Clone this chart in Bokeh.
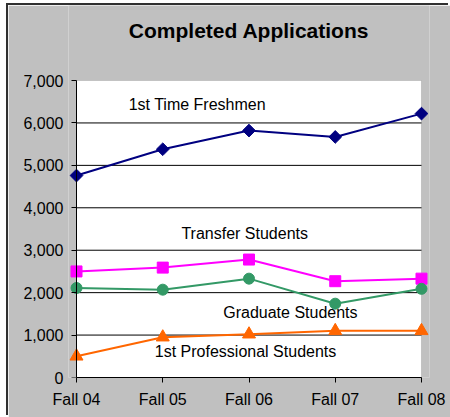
from bokeh.plotting import figure
from bokeh.models import (Range1d, FixedTicker, NumeralTickFormatter, Label,
                          ColumnDataSource, BoxAnnotation, LinearAxis)
from bokeh.embed import file_html
from bokeh.resources import INLINE

categories = ["Fall 04", "Fall 05", "Fall 06", "Fall 07", "Fall 08"]
freshmen = [4760, 5380, 5820, 5670, 6220]
transfer = [2500, 2590, 2780, 2270, 2330]
graduate = [2110, 2070, 2330, 1740, 2090]
professional = [500, 950, 1020, 1100, 1100]
y_ticks = [0, 1000, 2000, 3000, 4000, 5000, 6000, 7000]

xs = list(range(len(categories)))
x_last = len(categories) - 1
y_top = y_ticks[-1]
FONT = "Liberation Sans"
GRAY = "#C0C0C0"
PAD = 0.0928
Y_END = 8768

p = figure(width=442, height=412, x_range=Range1d(-PAD, x_last + PAD),
           y_range=Range1d(0, Y_END), output_backend="svg", toolbar_location=None,
           background_fill_color=GRAY, border_fill_color=GRAY,
           min_border_left=60, min_border_right=21, min_border_top=0,
           min_border_bottom=40)
p.styles = {"margin-left": "8px", "margin-top": "5px",
            "box-shadow": "-2px -2px 0 0 #303030"}
p.outline_line_color = None

# white plot area with gray top/right border
p.add_layout(BoxAnnotation(left=0, right=x_last, bottom=0, top=y_top,
                           fill_color="white", fill_alpha=1.0,
                           line_color="#808080", line_width=1, level="underlay"))

# x axis
p.xaxis.ticker = FixedTicker(ticks=xs)
p.xaxis.major_label_overrides = {i: c for i, c in enumerate(categories)}
p.xaxis.bounds = (0, x_last)
p.xaxis.axis_line_color = "black"
p.xaxis.major_tick_line_color = "black"
p.xaxis.major_tick_out = 5
p.xaxis.major_tick_in = 0
p.xaxis.minor_tick_line_color = None
p.xaxis.major_label_text_font = FONT
p.xaxis.major_label_text_font_size = "16px"
p.xaxis.major_label_text_color = "black"
p.xaxis.major_label_standoff = 8

# y axis: labels from the standard left axis
p.yaxis.ticker = FixedTicker(ticks=y_ticks)
p.yaxis.formatter = NumeralTickFormatter(format="0,0")
p.yaxis.axis_line_color = None
p.yaxis.major_tick_line_color = None
p.yaxis.major_tick_out = 0
p.yaxis.major_tick_in = 0
p.yaxis.minor_tick_line_color = None
p.yaxis.major_label_text_font = FONT
p.yaxis.major_label_text_font_size = "16px"
p.yaxis.major_label_text_color = "black"
p.yaxis.major_label_standoff = 5

# y axis line and ticks at the first category
yline = LinearAxis(ticker=FixedTicker(ticks=y_ticks), fixed_location=0,
                   bounds=(0, y_top), axis_line_color="black",
                   major_tick_line_color="black", major_tick_in=5, major_tick_out=0,
                   minor_tick_line_color=None, major_label_text_color=None,
                   major_label_text_font_size="1px", major_label_standoff=0)
p.add_layout(yline, "right")

p.xgrid.grid_line_color = None
p.ygrid.grid_line_color = None
grid_vals = y_ticks[1:-1]
p.segment(x0=[0] * len(grid_vals), x1=[x_last] * len(grid_vals), y0=grid_vals, y1=grid_vals,
          line_color="black", line_width=1)

series = [
    (freshmen, "#000080", "square", 9, 0.785398),
    (transfer, "#FF00FF", "square", 11, 0.0),
    (graduate, "#339966", "circle", 11, 0.0),
    (professional, "#FF6600", "triangle", 13, 0.0),
]
for vals, col, mk, sz, ang in series:
    src = ColumnDataSource(dict(x=xs, y=vals))
    p.line("x", "y", source=src, line_color=col, line_width=2)
    p.scatter("x", "y", source=src, marker=mk, size=sz, angle=ang,
              fill_color=col, line_color=col)

p.add_layout(Label(x=x_last / 2, y=8190, text="Completed Applications", text_align="center",
                   text_baseline="middle", text_font=FONT, text_font_size="21px",
                   text_font_style="bold", text_color="black"))

labels = [
    ("1st Time Freshmen", 1.40, 6434),
    ("Transfer Students", 1.95, 3394),
    ("Graduate Students", 2.48, 1539),
    ("1st Professional Students", 1.96, 613),
]
for txt, lx, ly in labels:
    p.add_layout(Label(x=lx, y=ly, text=txt, text_align="center", text_baseline="middle",
                       text_font=FONT, text_font_size="16px", text_color="black"))

open("out.html", "w").write(file_html(p, INLINE))
